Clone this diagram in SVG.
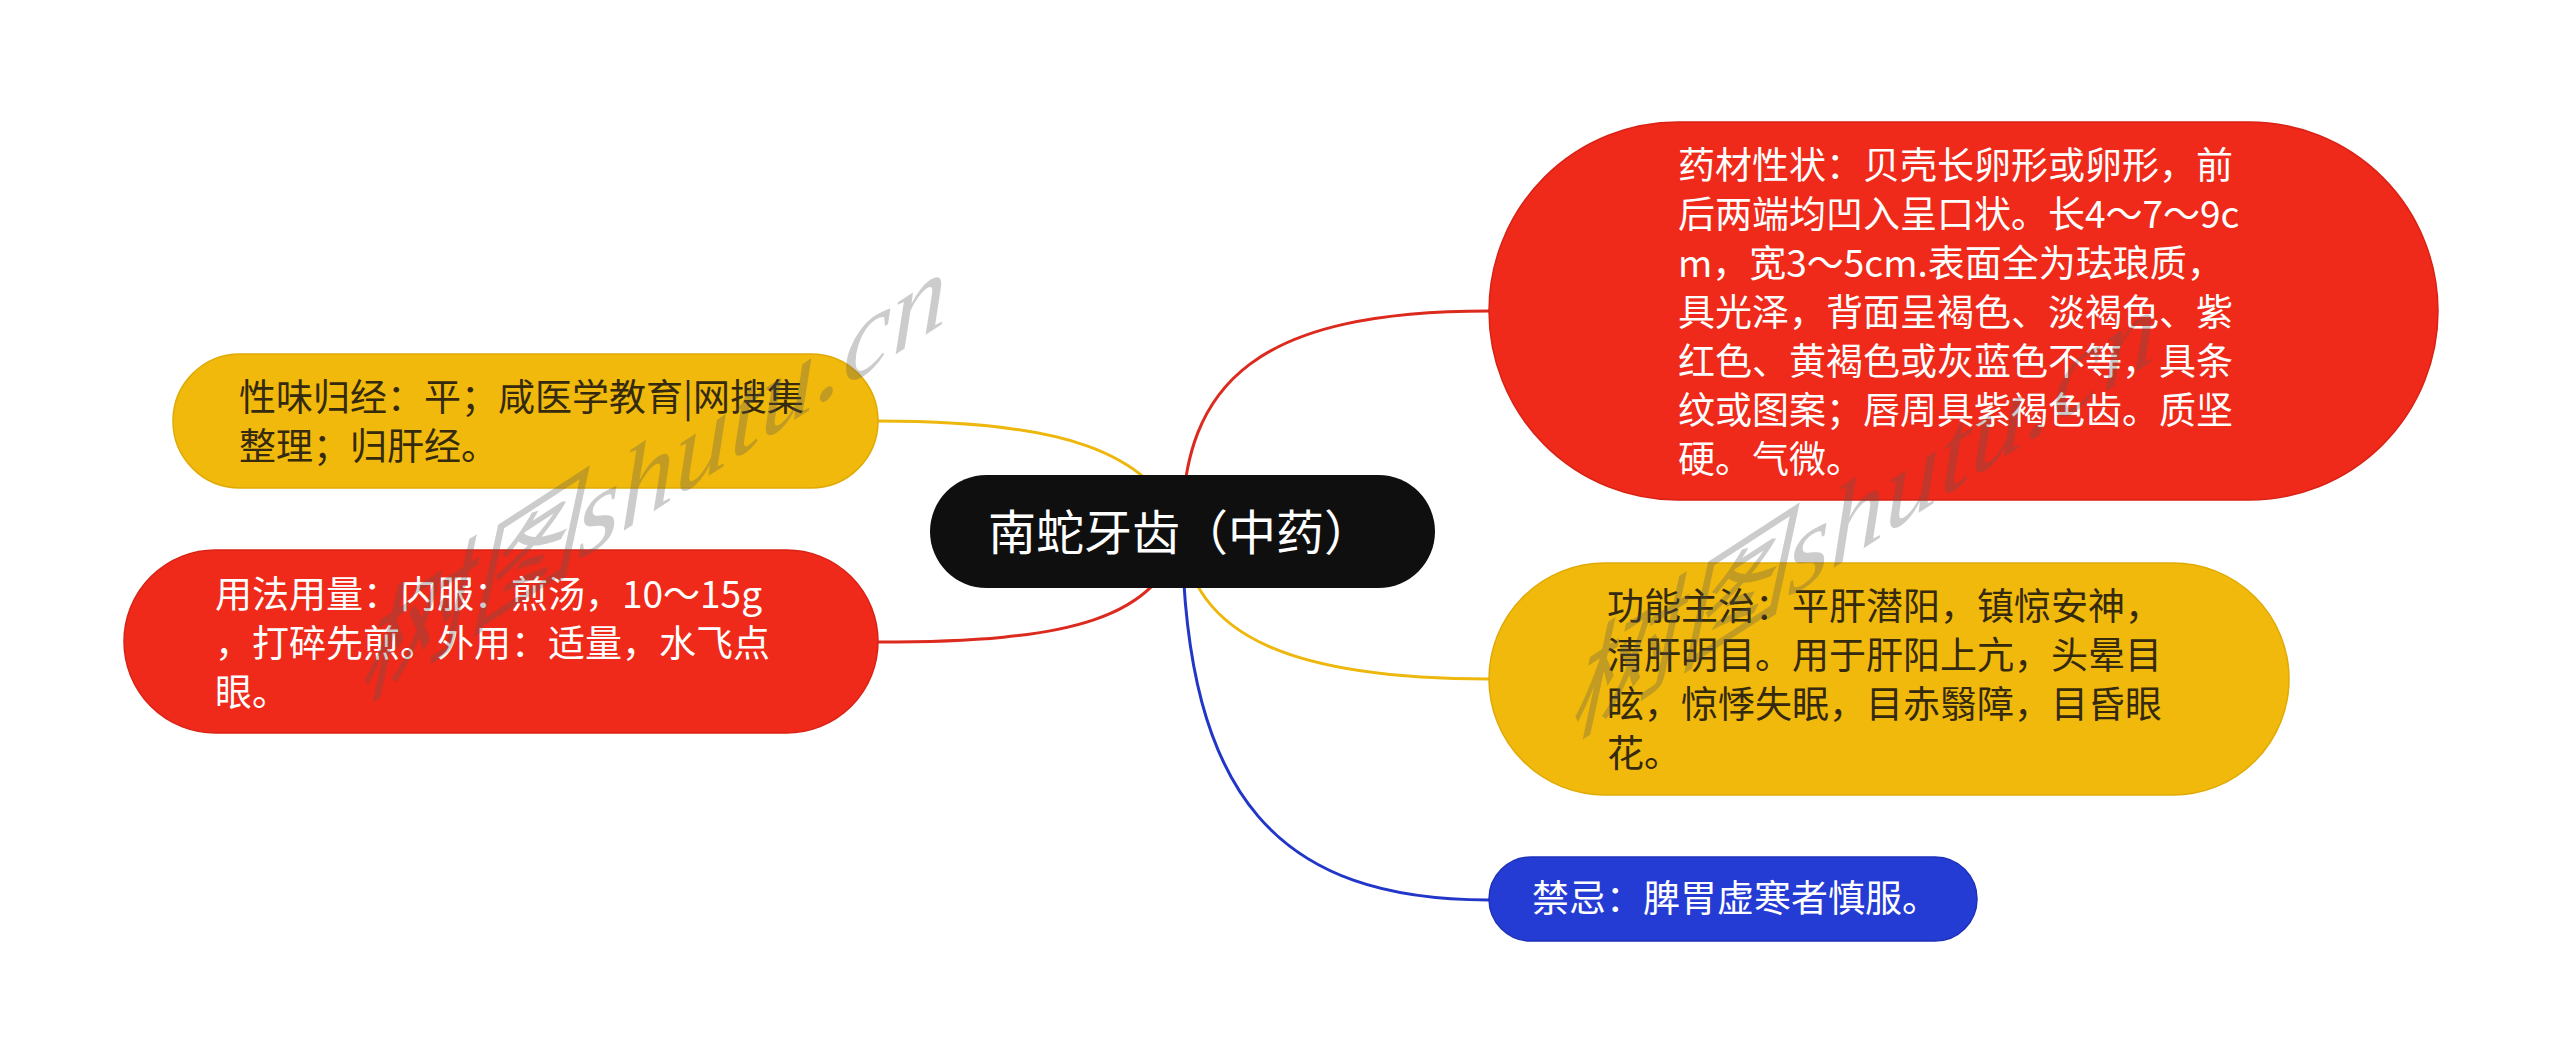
<svg xmlns="http://www.w3.org/2000/svg" width="2560" height="1064" viewBox="0 0 2560 1064">
<style>
  .t { font-family: "Noto Sans CJK SC", "Noto Sans", sans-serif; font-size: 37px; }
  .w { fill: #ffffff; }
  .d { fill: #352a0e; }
  .c { stroke-width: 3; fill: none; }
  .wm { font-family: "Liberation Serif", "Noto Sans CJK SC", serif; font-style: italic; font-size: 110px; fill: #555555; fill-opacity: 0.3; }
</style>
<rect x="0" y="0" width="2560" height="1064" fill="#ffffff"/>
<g id="connectors">
  <path class="c" stroke="#dc2a1e" d="M1182 531 C1182 380 1260 311 1489 311"/>
  <path class="c" stroke="#edb70d" d="M1182 531 C1190 640 1300 679 1489 679"/>
  <path class="c" stroke="#2236c8" d="M1182 531 C1185 800 1280 900 1489 900"/>
  <path class="c" stroke="#edb70d" d="M1182 531 C1150 450 1060 421 878 421"/>
  <path class="c" stroke="#dc2a1e" d="M1182 531 C1160 620 1070 642 878 642"/>
</g>
<g id="node-center">
  <rect x="930" y="475" width="505" height="113" rx="56.5" ry="56.5" fill="#0f0f0f"/>
  <text class="t w" x="988" y="550" style="font-size:48px">南蛇牙齿（中药）</text>
</g>
<g id="node-xingzhuang">
  <rect x="1489" y="122" width="949" height="378" rx="189" ry="189" fill="#ef2a1a" stroke="#d92215" stroke-width="1.5"/>
  <text class="t w" x="1678" y="179">药材性状：贝壳长卵形或卵形，前</text>
  <text class="t w" x="1678" y="228">后两端均凹入呈口状。长4～7～9c</text>
  <text class="t w" x="1678" y="277">m，宽3～5cm.表面全为珐琅质，</text>
  <text class="t w" x="1678" y="326">具光泽，背面呈褐色、淡褐色、紫</text>
  <text class="t w" x="1678" y="375">红色、黄褐色或灰蓝色不等，具条</text>
  <text class="t w" x="1678" y="424">纹或图案；唇周具紫褐色齿。质坚</text>
  <text class="t w" x="1678" y="473">硬。气微。</text>
</g>
<g id="node-gongneng">
  <rect x="1489" y="563" width="800" height="232" rx="116" ry="116" fill="#f0b90c" stroke="#e0aa05" stroke-width="1.5"/>
  <text class="t d" x="1607" y="620">功能主治：平肝潜阳，镇惊安神，</text>
  <text class="t d" x="1607" y="669">清肝明目。用于肝阳上亢，头晕目</text>
  <text class="t d" x="1607" y="718">眩，惊悸失眠，目赤翳障，目昏眼</text>
  <text class="t d" x="1607" y="767">花。</text>
</g>
<g id="node-jinji">
  <rect x="1489" y="857" width="488" height="84" rx="42" ry="42" fill="#253cd4" stroke="#1c30b8" stroke-width="1.5"/>
  <text class="t w" x="1532" y="912">禁忌：脾胃虚寒者慎服。</text>
</g>
<g id="node-xingwei">
  <rect x="173" y="354" width="705" height="134" rx="67" ry="67" fill="#f0b90c" stroke="#e0aa05" stroke-width="1.5"/>
  <text class="t d" x="239" y="411">性味归经：平；咸医学教育|网搜集</text>
  <text class="t d" x="239" y="460">整理；归肝经。</text>
</g>
<g id="node-yongfa">
  <rect x="124" y="550" width="754" height="183" rx="91.5" ry="91.5" fill="#ef2a1a" stroke="#d92215" stroke-width="1.5"/>
  <text class="t w" x="215" y="608">用法用量：内服：煎汤，10～15g</text>
  <text class="t w" x="215" y="657">，打碎先煎。外用：适量，水飞点</text>
  <text class="t w" x="215" y="706">眼。</text>
</g>
<g id="watermarks">
  <text class="wm" transform="translate(357,704) skewY(-33)" x="0" y="0">树图shutu.cn</text>
  <text class="wm" transform="translate(1567,741) skewY(-33)" x="0" y="0">树图shutu.cn</text>
</g>
</svg>
